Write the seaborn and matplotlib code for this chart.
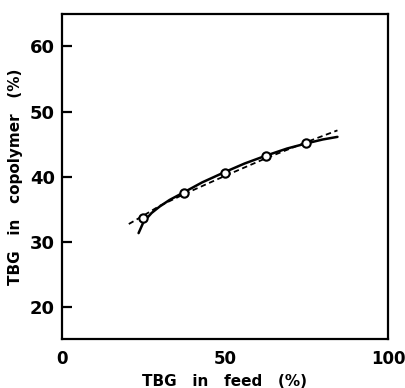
import matplotlib
matplotlib.use("Agg")
import matplotlib.pyplot as plt
import seaborn as sns

# measured data
feed = [25, 37.5, 50, 62.5, 75]
copolymer = [33.7, 37.5, 40.5, 43.2, 45.2]

# solid (theoretical) curve
solid_x = [23.5, 25, 27.5, 30, 33, 37.5, 43, 50, 56, 62.5, 69, 75, 80, 84.5]
solid_y = [31.3, 33.0, 34.4, 35.4, 36.4, 37.6, 39.1, 40.7, 42.0, 43.2, 44.3, 45.1, 45.7, 46.1]

# dashed curve
dash_x = [20.5, 25, 30, 37.5, 50, 62.5, 75, 84.5]
dash_y = [32.7, 34.0, 35.5, 37.3, 40.1, 42.8, 45.3, 47.1]

xticks = [0, 50, 100]
yticks = [20, 30, 40, 50, 60]

sns.set_style("white")
plt.rcParams.update({
    'font.family': ['DejaVu Sans'],
    'text.color': 'black',
    'axes.labelcolor': 'black',
    'axes.axisbelow': False,
    'ytick.left': True,
    'ytick.direction': 'in',
    'ytick.major.size': 6,
    'ytick.major.width': 1.5,
    'ytick.color': 'black',
    'xtick.bottom': False,
    'xtick.color': 'black',
})

fig = plt.figure(figsize=(4.05, 3.88), dpi=100)
ax = fig.add_axes([0.153, 0.126, 0.805, 0.838])

sns.lineplot(x=solid_x, y=solid_y, ax=ax, color="black", linewidth=1.8, sort=False)
sns.lineplot(x=dash_x, y=dash_y, ax=ax, color="black", linewidth=1.3, linestyle=(0, (3, 2)), sort=False)
sns.scatterplot(x=feed, y=copolymer, ax=ax, marker="o", s=36, facecolor="white",
                edgecolor="black", linewidth=1.5, zorder=5)

ax.set_xlim(0, 100)
ax.set_ylim(15, 65)
ax.set_xticks(xticks)
ax.set_yticks(yticks)
ax.set_xticklabels([str(t) for t in xticks], fontsize=12, fontweight="bold", color="black")
ax.set_yticklabels([str(t) for t in yticks], fontsize=13, fontweight="bold", color="black")
ax.yaxis.set_ticks_position('left')
ax.tick_params(axis="y", which="major", direction="in", length=7, width=1.6,
               left=True, color="black", pad=5)
ax.tick_params(axis="x", length=0, pad=8)

ax.set_xlabel("TBG   in   feed   (%)", fontsize=11, fontweight="bold", labelpad=4, color="black")
ax.set_ylabel("TBG   in   copolymer   (%)", fontsize=11, fontweight="bold", labelpad=5, color="black")

for sp in ax.spines.values():
    sp.set_visible(True)
    sp.set_color("black")
    sp.set_linewidth(1.6)

fig.savefig("out.png", dpi=100)
